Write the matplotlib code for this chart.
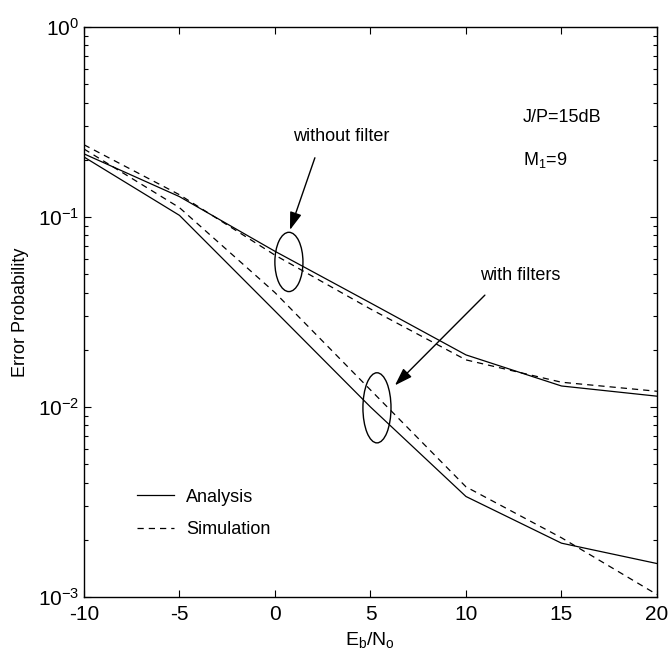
import numpy as np
import matplotlib
matplotlib.use("Agg")
import matplotlib.pyplot as plt
from matplotlib.patches import Ellipse
from matplotlib.lines import Line2D

plt.rcParams['font.family'] = ['Liberation Sans', 'DejaVu Sans']
plt.rcParams['mathtext.default'] = 'regular'
plt.rcParams['axes.unicode_minus'] = False

ebno = [-10, -5, 0, 5, 10, 15, 20]
no_filt_analysis = [0.215, 0.128, 0.066, 0.0353, 0.0188, 0.0129, 0.0114]
no_filt_sim = [0.240, 0.131, 0.063, 0.0328, 0.0177, 0.0135, 0.0121]
filt_analysis = [0.207, 0.102, 0.032, 0.0100, 0.00338, 0.00192, 0.0015]
filt_sim = [0.228, 0.112, 0.040, 0.0123, 0.0038, 0.00205, 0.00103]

x_ticks = [-10, -5, 0, 5, 10, 15, 20]

fig = plt.figure(figsize=(6.68, 6.62), dpi=100)
ax = fig.add_axes([0.1257, 0.0982, 0.8578, 0.861])

lw = 0.9
dash = (0, (5, 4))
ax.plot(ebno, no_filt_analysis, color='black', lw=lw)
ax.plot(ebno, no_filt_sim, color='black', lw=lw, linestyle=dash)
ax.plot(ebno, filt_analysis, color='black', lw=lw)
ax.plot(ebno, filt_sim, color='black', lw=lw, linestyle=dash)

ax.set_yscale('log')
ax.set_xlim(-10, 20)
ax.set_ylim(1e-3, 1)
ax.set_xticks(x_ticks)
ax.set_xticklabels([str(v) for v in x_ticks])
ax.tick_params(which='both', direction='in', top=True, right=True,
               labelsize=15, width=0.8)
ax.tick_params(which='major', length=5)
ax.tick_params(which='minor', length=3)
ax.tick_params(axis='x', pad=6)
for s in ax.spines.values():
    s.set_linewidth(1.0)

ax.set_xlabel(r'E$_b$/N$_o$', fontsize=14, labelpad=4)
ax.set_ylabel('Error Probability', fontsize=13, labelpad=6)

# ellipses marking the curve groups (axes coords from data centres)
to_axes = ax.transData + ax.transAxes.inverted()
for xc, yc, h in [(0.73, 0.058, 0.104), (5.34, 0.0099, 0.123)]:
    cx, cy = to_axes.transform((xc, yc))
    ax.add_patch(Ellipse((cx, cy), 0.049, h, transform=ax.transAxes,
                         fill=False, color='black', lw=1.0))

arrow = dict(arrowstyle='-|>,head_length=0.6,head_width=0.2', color='black',
             lw=1.0, mutation_scale=18, shrinkA=0, shrinkB=0)
ax.annotate('', xy=(0.785, 0.0855), xytext=(2.09, 0.205), arrowprops=arrow)
ax.annotate('', xy=(6.28, 0.0130), xytext=(10.99, 0.0388), arrowprops=arrow)

ax.text(0.94, 0.264, 'without filter', fontsize=13, va='center')
ax.text(10.73, 0.0495, 'with filters', fontsize=13, va='center')
ax.text(12.98, 0.332, 'J/P=15dB', fontsize=13, va='center')
ax.text(12.98, 0.2, r'M$_1$=9', fontsize=13, va='center')

handles = [Line2D([], [], color='black', lw=lw),
           Line2D([], [], color='black', lw=lw, linestyle=dash)]
ax.legend(handles, ['Analysis', 'Simulation'], loc='lower left',
          bbox_to_anchor=(0.065, 0.075), frameon=False, fontsize=13,
          handlelength=2.0, handletextpad=0.7, labelspacing=0.85)

fig.savefig('out.png', dpi=100)
